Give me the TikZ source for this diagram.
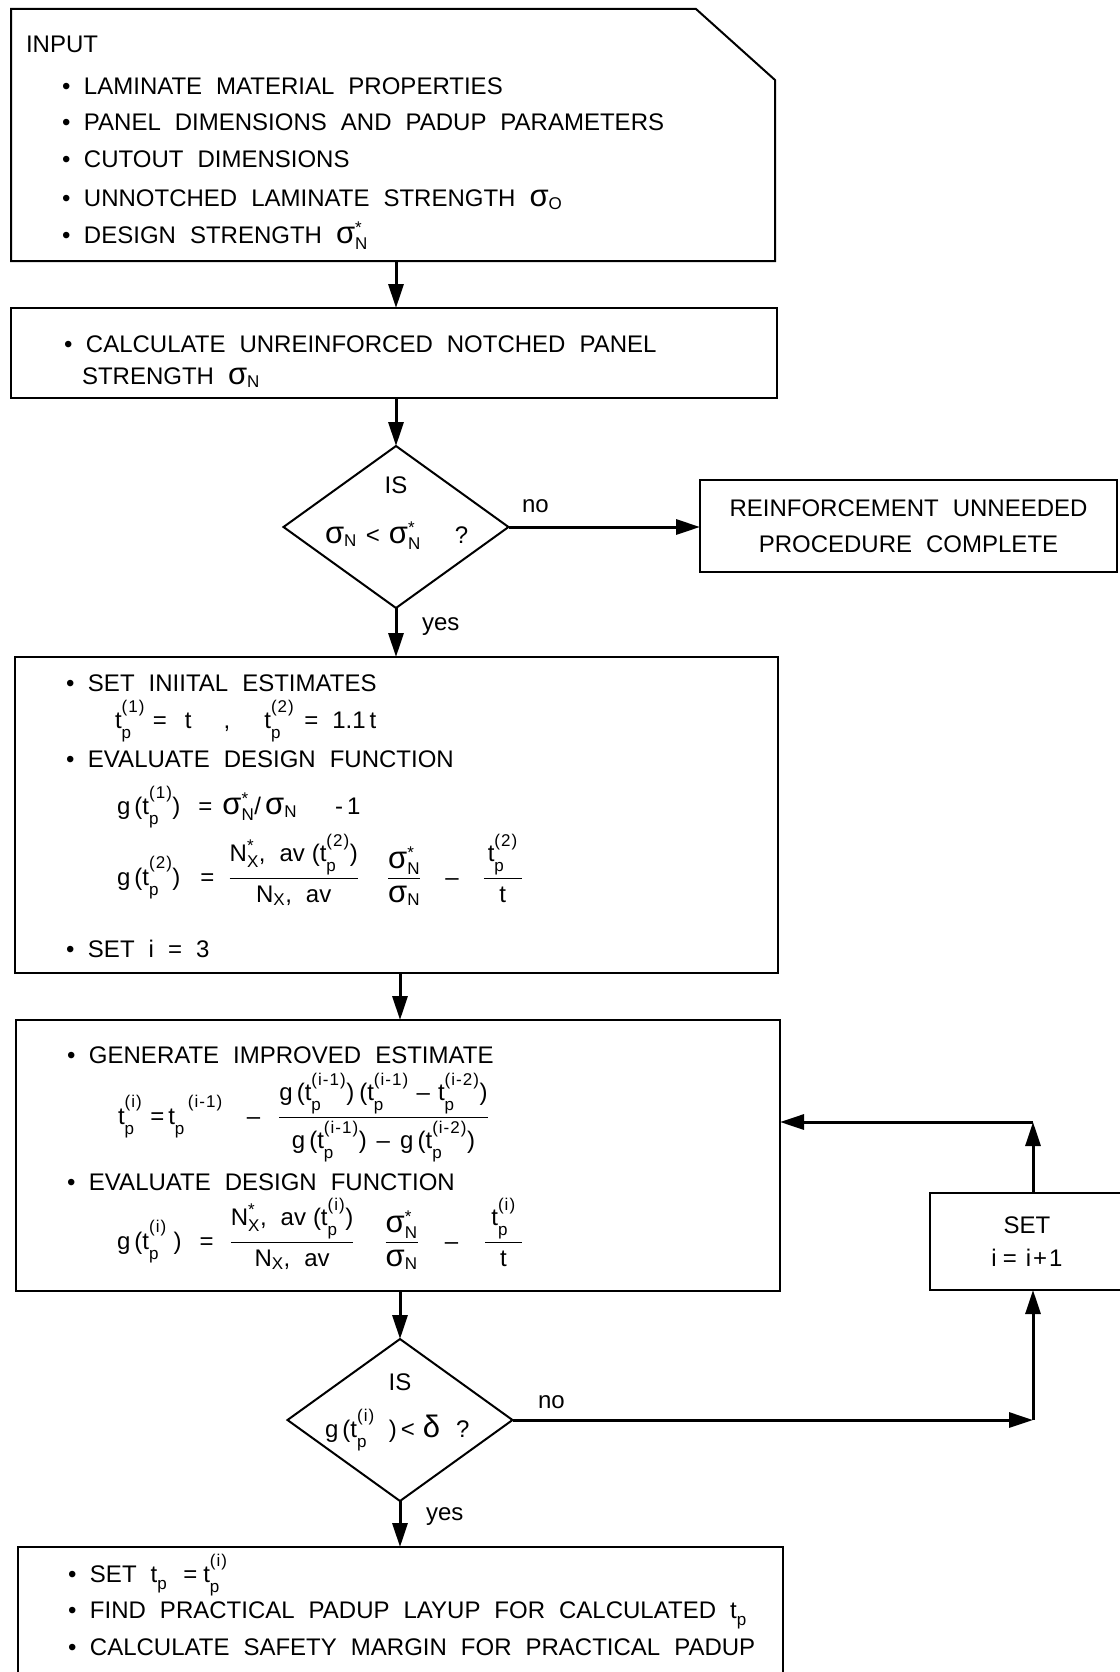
\documentclass[tikz,border=0pt]{standalone}
\usepackage{amsmath}
\usepackage{fontspec}
\setmainfont{Liberation Sans}[WordSpace={2.1}]
\usetikzlibrary{arrows.meta,shapes.geometric}
\DeclareMathSizes{24}{24}{17}{13}
\newcommand\T[1]{\text{#1}}
\newcommand\Sp[1]{\T{\raisebox{6pt}{\addfontfeature{LetterSpace=6}(#1)}}}
\newcommand\Sb{\T{\raisebox{-4pt}{p}}}
\newcommand\tpp[1]{\T{t}^{\Sp{#1}}_{\Sb}}
\newcommand\sgm{\text{\fontsize{31}{32}\selectfont σ}}
\newcommand\bul{\makebox[22pt][l]{•}}
\begin{document}
\begin{tikzpicture}[x=1pt,y=-1pt,
  every node/.style={inner sep=0pt, outer sep=0pt},
  txt/.style={anchor=base west, font=\fontsize{24}{28}\selectfont},
  ctxt/.style={anchor=base, font=\fontsize{24}{28}\selectfont},
  box/.style={draw, line width=2pt, anchor=north west},
  dia/.style={diamond, draw, line width=2pt, minimum width=225pt, minimum height=162pt},
  arr/.style={line width=3pt, -{Triangle[length=24pt,width=15pt]}}
]
\useasboundingbox (0,0) rectangle (1119,1672);

% ---------- input box ----------
\node[anchor=north west, minimum width=764pt, minimum height=252pt] (input) at (11,9) {};
\draw[line width=2pt] (input.north west) -- ([xshift=-79pt]input.north east)
  -- ([yshift=-71pt]input.north east) -- (input.south east) -- (input.south west) -- cycle;
\node[txt] (in0) at (26,53) {INPUT};
\node[txt] (in1) at (62,95) {\bul LAMINATE MATERIAL PROPERTIES};
\node[txt] (in2) at (62,131) {\bul PANEL DIMENSIONS AND PADUP PARAMETERS};
\node[txt] (in3) at (62,168) {\bul CUTOUT DIMENSIONS};
\node[txt] (in4) at (62,206) {\bul UNNOTCHED LAMINATE STRENGTH $\sgm_{\T{O}}$};
\node[txt] (in5) at (62,243) {\bul DESIGN STRENGTH $\sgm^{\T{*}}_{\T{N}}$};

% ---------- calculate box ----------
\node[box, minimum width=766pt, minimum height=90pt] (calc) at (11,308) {};
\node[txt] (ca1) at (64,352) {\bul CALCULATE UNREINFORCED NOTCHED PANEL};
\node[txt] (ca2) at (82,384) {STRENGTH $\sgm_{\T{N}}$};

% ---------- decision 1 ----------
\node[dia] (d1) at (396,527) {};
\node[ctxt] (d1a) at (396,493) {IS};
\node[txt] (d1b) at (325,543) {$\sgm_{\T{N}}\hspace{9pt}\T{<}\hspace{9pt}\sgm^{\T{*}}_{\T{N}}\hspace{34pt}\T{?}$};
\node[txt] (no1) at (522,512) {no};
\node[txt] (yes1) at (422,630) {yes};

% ---------- done box ----------
\node[box, minimum width=417pt, minimum height=92pt, align=center,
      font=\fontsize{24}{36}\selectfont] (done) at (700,480)
      {REINFORCEMENT UNNEEDED\\PROCEDURE COMPLETE};

% ---------- initial estimates box ----------
\node[box, minimum width=763pt, minimum height=316pt] (init) at (15,657) {};
\node[txt] (i1) at (66,691) {\bul SET INIITAL ESTIMATES};
\node[txt] (i2) at (115,728) {$\tpp{1}\hspace{8pt}\T{=}\hspace{18pt}\T{t}\hspace{32pt}\T{,}\hspace{34pt}\tpp{2}\hspace{10pt}\T{=}\hspace{14pt}\T{1.1\,t}$};
\node[txt] (i3) at (66,767) {\bul EVALUATE DESIGN FUNCTION};
\node[txt] (i4) at (117,814) {$\T{g}\,\T{(}\tpp{1}\T{)}\hspace{18pt}\T{=}\hspace{10pt}\sgm^{\T{*}}_{\T{N}}\T{/}\,\sgm_{\T{N}}\hspace{38pt}\T{-}\hspace{4pt}\T{1}$};
\node[txt] (i5) at (117,885) {$\displaystyle \T{g}\,\T{(}\tpp{2}\T{)}\hspace{20pt}\T{=}\hspace{14pt}
   \frac{\T{N}^{\T{*}}_{\T{X}}\T{, av}\;\T{(}\tpp{2}\T{)}}{\T{N}_{\T{X}}\T{, av}}\hspace{28pt}
   \frac{\sgm^{\T{*}}_{\T{N}}}{\sgm_{\T{N}}}\hspace{24pt}\T{–}\hspace{24pt}\frac{\hspace{4pt}\tpp{2}\hspace{4pt}}{\T{t}}$};
\node[txt] (i6) at (66,957) {\bul SET i = 3};

% ---------- iteration box ----------
\node[box, minimum width=764pt, minimum height=271pt] (iter) at (16,1020) {};
\node[txt] (g1) at (67,1063) {\bul GENERATE IMPROVED ESTIMATE};
\node[txt] (g2) at (118,1124) {$\displaystyle \tpp{i}\hspace{8pt}\T{=}\hspace{4pt}\T{t}^{\hspace{13pt}\Sp{i-1}}_{\Sb}\hspace{24pt}\T{–}\hspace{18pt}
   \frac{\T{g}\,\T{(}\tpp{i-1}\T{)}\hspace{5pt}\T{(}\tpp{i-1}\hspace{8pt}\T{–}\hspace{8pt}\tpp{i-2}\T{)}}
        {\T{g}\,\T{(}\tpp{i-1}\T{)}\hspace{10pt}\T{–}\hspace{10pt}\T{g}\,\T{(}\tpp{i-2}\T{)}}$};
\node[txt] (g3) at (67,1190) {\bul EVALUATE DESIGN FUNCTION};
\node[txt] (g4) at (117,1249) {$\displaystyle \T{g}\,\T{(}\tpp{i}\;\T{)}\hspace{18pt}\T{=}\hspace{16pt}
   \frac{\T{N}^{\T{*}}_{\T{X}}\T{, av}\;\T{(}\tpp{i}\T{)}}{\T{N}_{\T{X}}\T{, av}}\hspace{30pt}
   \frac{\sgm^{\T{*}}_{\T{N}}}{\sgm_{\T{N}}}\hspace{26pt}\T{–}\hspace{26pt}\frac{\hspace{6pt}\tpp{i}\hspace{6pt}}{\T{t}}$};

% ---------- decision 2 ----------
\node[dia] (d2) at (400,1420) {};
\node[ctxt] (d2a) at (400,1390) {IS};
\node[txt] (d2b) at (325,1437) {$\T{g}\,\T{(}\tpp{i}\hspace{14pt}\T{)}\hspace{4pt}\T{<}\hspace{8pt}\text{\fontsize{31}{32}\selectfont δ}\hspace{16pt}\T{?}$};
\node[txt] (no2) at (538,1408) {no};
\node[txt] (yes2) at (426,1520) {yes};

% ---------- set i box ----------
\node[box, minimum width=194pt, minimum height=97pt, align=center,
      font=\fontsize{24}{33}\selectfont] (setb) at (930,1193)
      {SET\\i\hspace{6pt}=\hspace{9pt}i\hspace{2pt}+\hspace{2pt}1};

% ---------- final box ----------
\node[box, minimum width=765pt, minimum height=200pt] (final) at (18,1547) {};
\node[txt] (f1) at (68,1582) {\bul SET $\T{t}_{\Sb}\hspace{16pt}\T{=}\hspace{6pt}\tpp{i}$};
\node[txt] (f2) at (68,1618) {\bul FIND PRACTICAL PADUP LAYUP FOR CALCULATED $\T{t}_{\Sb}$};
\node[txt] (f3) at (68,1655) {\bul CALCULATE SAFETY MARGIN FOR PRACTICAL PADUP};

% ---------- connectors ----------
\draw[arr] (input.south -| d1) -- (calc.north -| d1);
\draw[arr] (calc.south -| d1) -- (d1.north);
\draw[arr] (d1.east) -- (done.west |- d1.east);
\draw[arr] (d1.south) -- (init.north -| d1);
\draw[arr] (init.south -| d2) -- (iter.north -| d2);
\draw[arr] (iter.south -| d2) -- (d2.north);
\draw[arr] (d2.south) -- (final.north -| d2);
\coordinate (lx) at ([xshift=6pt]setb.south);
\coordinate (ux) at ([xshift=6pt]setb.north);
\coordinate (c1) at (d2.east -| lx);
\coordinate (c2) at ([yshift=71pt]ux);
\draw[arr] (d2.east) -- (c1);
\draw[arr] (c1) -- (lx);
\draw[arr] (ux) -- (c2);
\draw[arr] (c2) -- (c2 -| iter.east);
\end{tikzpicture}
\end{document}
